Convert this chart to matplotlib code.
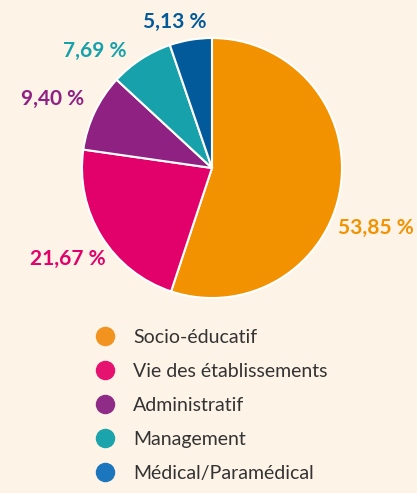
import matplotlib.pyplot as plt
from matplotlib.lines import Line2D

# données
categories = ["Socio-éducatif", "Vie des établissements", "Administratif",
              "Management", "Médical/Paramédical"]
valeurs = [53.85, 21.67, 9.40, 7.69, 5.13]
etiquettes = ["53,85 %", "21,67 %", "9,40 %", "7,69 %", "5,13 %"]

couleurs = ["#f39200", "#e2006a", "#8e2182", "#17a2ab", "#035a9b"]
couleurs_legende = ["#f29320", "#e5136f", "#8f2c87", "#1ba4ab", "#1b76bd"]
# position des étiquettes (coordonnées du camembert, rayon = 1)
pos_etiquettes = [(1.26, -0.46), (-1.11, -0.70), (-1.23, 0.53), (-0.90, 0.90), (-0.29, 1.12)]

fond = "#fdf3e7"
plt.rcParams['font.family'] = ['Lato', 'DejaVu Sans']

fig = plt.figure(figsize=(4.17, 4.93), dpi=100, facecolor=fond)
ax = fig.add_axes([0.1966, 0.3955, 0.6235, 0.5274])
ax.set_facecolor(fond)

ax.pie(valeurs, colors=couleurs, startangle=90, counterclock=False,
       wedgeprops=dict(edgecolor="white", linewidth=1.5))
ax.set_xlim(-1, 1)
ax.set_ylim(-1, 1)
ax.set_aspect("equal")

for txt, (x, y), c in zip(etiquettes, pos_etiquettes, couleurs):
    ax.text(x, y, txt, color=c, fontsize=15, fontweight="bold",
            ha="center", va="center")

poignees = [Line2D([], [], linestyle="none", marker="o", markersize=13,
                   markerfacecolor=c, markeredgecolor=c) for c in couleurs_legende]
fig.legend(poignees, categories, loc="upper left", bbox_to_anchor=(0.205, 0.353),
           frameon=False, fontsize=14, labelcolor="#333333",
           handletextpad=0.95, labelspacing=0.88, borderpad=0, handlelength=1.0)

plt.savefig("out.png", dpi=100, facecolor=fond)
